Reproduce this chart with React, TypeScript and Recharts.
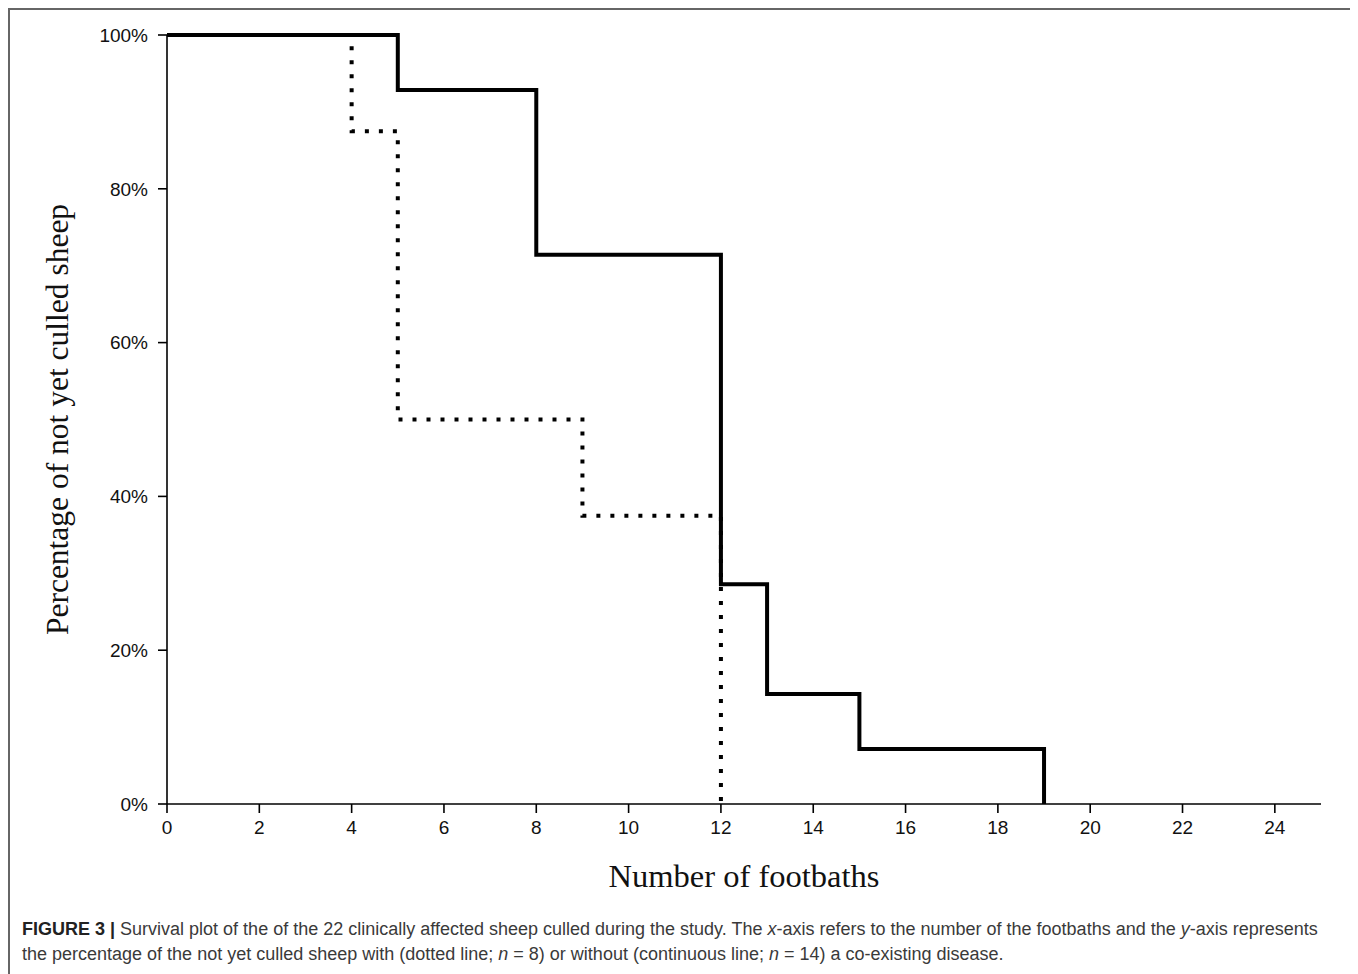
import { LineChart, Line, XAxis, YAxis } from 'recharts'

// Kaplan-Meier style steps
const withDiseaseX = [0, 4, 5, 9, 12]
const withDiseasePct = [100, 87.5, 50, 37.5, 0]

const withoutDiseaseX = [0, 5, 8, 12, 13, 15, 19]
const withoutDiseasePct = [100, 92.86, 71.43, 28.57, 14.29, 7.14, 0]

const xTicks = [0, 2, 4, 6, 8, 10, 12, 14, 16, 18, 20, 22, 24]
const yTicks = [0, 20, 40, 60, 80, 100]

const dotted = withDiseaseX.map((x, i) => ({ x, pct: withDiseasePct[i] }))
const solid = withoutDiseaseX.map((x, i) => ({ x, pct: withoutDiseasePct[i] }))

const tickStyle = { fill: '#111', fontSize: 19, fontFamily: '"Liberation Sans", Arial, sans-serif' }
const serif = '"Liberation Serif", "Times New Roman", serif'

function YLabel(props: any) {
  const vb = props.viewBox
  const cx = vb.x + 47
  const cy = vb.y + vb.height / 2
  return (
    <text
      x={cx}
      y={cy}
      transform={`rotate(-90, ${cx}, ${cy})`}
      textAnchor="middle"
      dominantBaseline="central"
      fontFamily={serif}
      fontSize={31.5}
      fill="#111"
    >
      Percentage of not yet culled sheep
    </text>
  )
}

function XLabel(props: any) {
  const vb = props.viewBox
  return (
    <text
      x={vb.x + vb.width / 2}
      y={vb.y + 83}
      textAnchor="middle"
      fontFamily={serif}
      fontSize={32.5}
      fill="#111"
    >
      Number of footbaths
    </text>
  )
}

export default function App() {
  return (
    <div style={{ width: 1341, height: 1000, border: '2px solid #666', borderBottom: 'none', background: '#fff' }}>
      <LineChart width={1341} height={900} margin={{ top: 25, right: 30, left: 0, bottom: 20 }}>
        <XAxis
          type="number"
          dataKey="x"
          domain={[0, 25]}
          ticks={xTicks}
          allowDuplicatedCategory={false}
          height={86}
          tickSize={9}
          tickMargin={8}
          tick={tickStyle}
          axisLine={{ stroke: '#000', strokeWidth: 1.6 }}
          tickLine={{ stroke: '#000', strokeWidth: 1.6 }}
          label={<XLabel />}
        />
        <YAxis
          type="number"
          dataKey="pct"
          domain={[0, 100]}
          ticks={yTicks}
          width={157}
          tickSize={9}
          tickMargin={10}
          tick={tickStyle}
          tickFormatter={(v: number) => `${v}%`}
          axisLine={{ stroke: '#000', strokeWidth: 1.6 }}
          tickLine={{ stroke: '#000', strokeWidth: 1.6 }}
          label={<YLabel />}
        />
        <Line
          data={dotted}
          dataKey="pct"
          type="stepAfter"
          stroke="#000"
          strokeWidth={4}
          strokeDasharray="4 10"
          strokeLinecap="butt"
          dot={false}
          activeDot={false}
          isAnimationActive={false}
        />
        <Line
          data={solid}
          dataKey="pct"
          type="stepAfter"
          stroke="#000"
          strokeWidth={4}
          strokeLinejoin="miter"
          dot={false}
          activeDot={false}
          isAnimationActive={false}
        />
      </LineChart>
      <div
        style={{
          marginTop: 7,
          paddingLeft: 12,
          fontFamily: '"Liberation Sans", Arial, sans-serif',
          fontSize: 18,
          lineHeight: '25px',
          color: '#3a3a3a',
          whiteSpace: 'nowrap',
        }}
      >
        <div>
          <b style={{ color: '#222' }}>FIGURE 3 |</b> Survival plot of the of the 22 clinically affected sheep culled during the study. The <i>x</i>-axis refers to the number of the footbaths and the <i>y</i>-axis represents
        </div>
        <div>
          the percentage of the not yet culled sheep with (dotted line; <i>n</i> = 8) or without (continuous line; <i>n</i> = 14) a co-existing disease.
        </div>
      </div>
    </div>
  )
}
